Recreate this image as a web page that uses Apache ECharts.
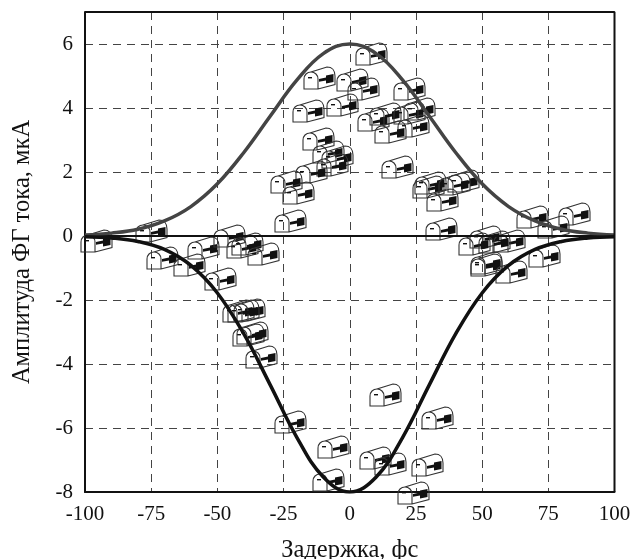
<!DOCTYPE html>
<html><head><meta charset="utf-8">
<style>html,body{margin:0;padding:0;background:#fff}#c{width:630px;height:559px}</style>
<script src="https://cdn.jsdelivr.net/npm/echarts@6/dist/echarts.min.js"></script>
</head><body><div id="c"></div>
<script>
const xTicks = [-100,-75,-50,-25,0,25,50,75,100];
const yTicks = [-8,-6,-4,-2,0,2,4,6];
const xName = 'Задержка, фс';
const yName = 'Амплитуда ФГ тока, мкА';
const upperEnvelope = [[-100,0.03],[-90,0.09],[-80,0.21],[-70,0.47],[-60,0.92],[-50,1.63],[-40,2.61],[-30,3.75],[-20,4.87],[-10,5.70],[0,6],[10,5.70],[20,4.87],[30,3.75],[40,2.61],[50,1.63],[60,0.92],[70,0.47],[80,0.21],[90,0.09],[100,0.03]];
const lowerEnvelope = [[-100,-0.02],[-90,-0.06],[-80,-0.17],[-70,-0.42],[-60,-0.92],[-50,-1.78],[-40,-3.06],[-30,-4.66],[-20,-6.29],[-10,-7.53],[0,-8],[10,-7.53],[20,-6.29],[30,-4.66],[40,-3.06],[50,-1.78],[60,-0.92],[70,-0.42],[80,-0.17],[90,-0.06],[100,-0.02]];
const zeroLine = [[-100,0],[100,0]];
const frameLine = [[-100,7],[100,7],[100,-8]];
const measuredPoints = [[8.4,5.68],[-11.5,4.93],[0.9,4.87],[5.2,4.58],[22.7,4.60],[-15.6,3.90],[-2.9,4.08],[9.0,3.62],[13.4,3.82],[22.4,3.85],[26.4,3.96],[23.9,3.45],[15.5,3.25],[-11.8,3.02],[-8.2,2.63],[-4.8,2.48],[-6.7,2.22],[-14.4,2.01],[18.0,2.15],[-23.8,1.68],[-19.5,1.34],[-22.3,0.46],[34.6,0.21],[35.0,1.12],[29.7,1.53],[30.6,1.67],[43.1,1.72],[39.7,1.63],[69.2,0.58],[84.9,0.68],[77.0,0.28],[51.3,-0.02],[47.3,-0.26],[60.5,-0.16],[54.8,-0.19],[51.5,-0.85],[51.5,-0.92],[61.1,-1.13],[73.7,-0.63],[-95.6,-0.17],[-74.7,0.17],[-70.6,-0.70],[-60.7,-0.91],[-55.2,-0.37],[-48.7,-1.35],[-45.6,0],[-40.4,-0.34],[-38.5,-0.26],[-32.5,-0.57],[-42,-2.34],[-37.9,-2.32],[-40.1,-2.34],[-38.1,-3.10],[-36.6,-3.02],[-33.3,-3.78],[13.4,-4.98],[33,-5.68],[-22.3,-5.82],[-6,-6.59],[9.7,-6.95],[15.5,-7.13],[29.5,-7.17],[-8.2,-7.63],[23.9,-8.04]];

const FONT = '"Liberation Serif","Times New Roman",serif';
const outline = 'M7,5 C3,5 0,8 0,12 L0,22 L14,22 L31,17.5 L31,9 C31,3 28,0 23,0 L7,5 C11,5 14,8 14,12 L14,22';
const dash = 'M4,10 L8,10 L8,11.4 L4,11.4 Z';
const flag = 'M15,12 L22,10.6 L22,8.6 L29.5,7 L29.5,15 L22,16.6 L22,13.4 L15,14.8 Z';
function iconItem(params, api){
  const p = api.coord([api.value(0), api.value(1)]);
  return {type:'group', x:Math.round(p[0]-15.5), y:Math.round(p[1]-11), silent:true, children:[
    {type:'path', shape:{pathData:outline,x:0,y:0,width:31,height:22,layout:'cover'}, style:{fill:'none',stroke:'#333',lineWidth:1.1}},
    {type:'path', shape:{pathData:dash,x:4,y:10,width:4,height:1.4,layout:'cover'}, style:{fill:'#111'}},
    {type:'path', shape:{pathData:flag,x:15,y:7,width:14.5,height:9.6,layout:'cover'}, style:{fill:'#111'}}
  ]};
}
const chart = echarts.init(document.getElementById('c'), null, {renderer:'canvas'});
const gridDash = {color:'#444', width:1, type:[8,6]};
chart.setOption({
  animation:false,
  backgroundColor:'#fff',
  grid:{left:85, right:15.5, top:12, bottom:67, show:false, outerBoundsMode:'none'},
  xAxis:{type:'value', min:-100, max:100, interval:25,
    name:xName, nameLocation:'middle', nameGap:46, nameTextStyle:{fontFamily:FONT,fontSize:24.5,color:'#111'},
    axisLine:{show:true,onZero:false,lineStyle:{color:'#111',width:2}},
    axisTick:{show:false},
    axisLabel:{fontFamily:FONT,fontSize:21,color:'#111',margin:12,customValues:xTicks,showMinLabel:true,showMaxLabel:true},
    splitLine:{show:true,lineStyle:gridDash}},
  yAxis:{type:'value', min:-8, max:7, interval:2,
    name:yName, nameLocation:'middle', nameGap:50, nameTextStyle:{fontFamily:FONT,fontSize:24.5,color:'#111'},
    axisLine:{show:true,onZero:false,lineStyle:{color:'#111',width:2}},
    axisTick:{show:false},
    axisLabel:{fontFamily:FONT,fontSize:21,color:'#111',margin:12,customValues:yTicks},
    splitLine:{show:true,lineStyle:gridDash}},
  series:[
    {type:'custom', name:'Измерения', data:measuredPoints, renderItem:iconItem, clip:false, z:2,
     encode:{x:0,y:1}},
    {type:'line', name:'zero', data:zeroLine, symbol:'none', lineStyle:{color:'#111',width:2}, z:3},
    {type:'line', name:'upper', data:upperEnvelope, smooth:0.4, symbol:'none', lineStyle:{color:'#444',width:3.5}, z:4},
    {type:'line', name:'lower', data:lowerEnvelope, smooth:0.4, symbol:'none', lineStyle:{color:'#111',width:3.5}, z:5},
    {type:'line', name:'frame', data:frameLine, symbol:'none', lineStyle:{color:'#111',width:2}, z:6}
  ]
});
</script></body></html>
